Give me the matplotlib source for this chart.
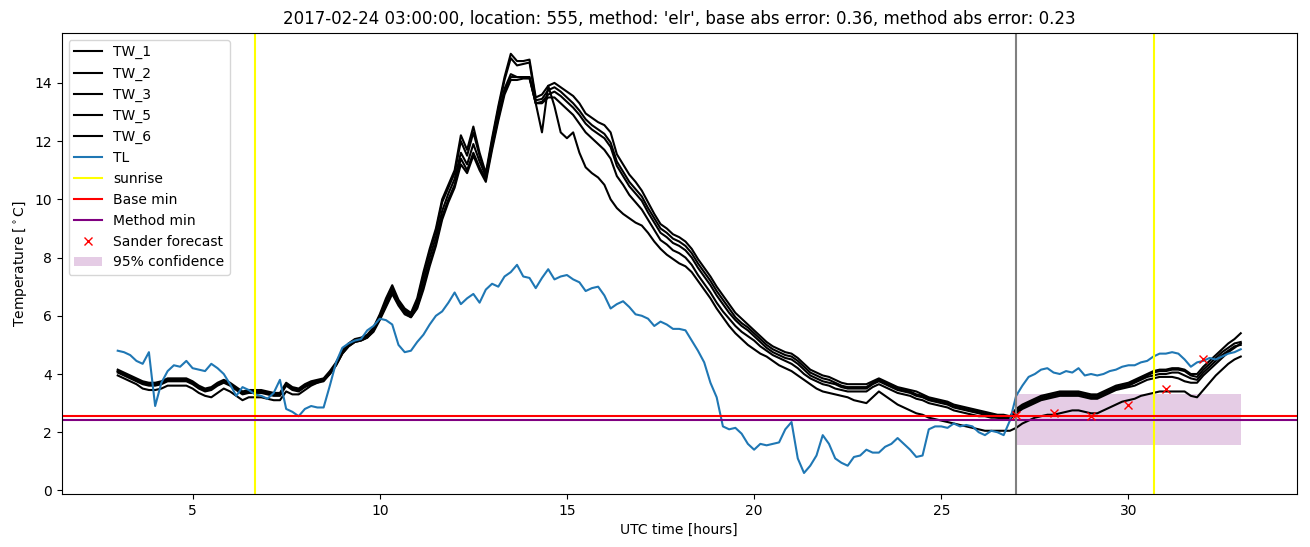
import numpy as np
import matplotlib
matplotlib.use("Agg")
import matplotlib.pyplot as plt

# time grid: 10-minute steps from 03:00 to 33:00 (hours)
hours = np.arange(181) / 6.0 + 3.0

TW_1 = [4.15, 4.05, 3.95, 3.85, 3.75, 3.7,
        3.7, 3.75, 3.85, 3.85, 3.85, 3.85,
        3.75, 3.6, 3.5, 3.55, 3.7, 3.8,
        3.7, 3.55, 3.4, 3.45, 3.45, 3.45,
        3.4, 3.35, 3.35, 3.7, 3.55, 3.5,
        3.65, 3.75, 3.8, 3.85, 4.1, 4.4,
        4.8, 5.05, 5.2, 5.25, 5.35, 5.6,
        6.05, 6.6, 7.05, 6.55, 6.25, 6.1,
        6.6, 7.5, 8.3, 9.0, 10.0, 10.5,
        11.0, 12.2, 11.7, 12.5, 11.6, 10.9,
        12.1, 13.2, 14.2, 15.0, 14.75, 14.75,
        14.8, 13.5, 13.6, 13.9, 14.0, 13.85,
        13.7, 13.55, 13.3, 12.95, 12.8, 12.65,
        12.55, 12.3, 11.55, 11.2, 10.85, 10.6,
        10.3, 9.9, 9.5, 9.15, 9.0, 8.8,
        8.7, 8.55, 8.3, 7.95, 7.65, 7.35,
        7.0, 6.7, 6.4, 6.1, 5.9, 5.7,
        5.5, 5.3, 5.1, 4.95, 4.85, 4.75,
        4.7, 4.55, 4.35, 4.15, 4.05, 3.95,
        3.9, 3.8, 3.7, 3.65, 3.65, 3.65,
        3.65, 3.75, 3.85, 3.75, 3.65, 3.55,
        3.5, 3.45, 3.4, 3.3, 3.2, 3.15,
        3.1, 3.05, 2.95, 2.9, 2.85, 2.8,
        2.75, 2.7, 2.65, 2.6, 2.6, 2.55,
        2.8, 2.95, 3.05, 3.15, 3.25, 3.3,
        3.35, 3.4, 3.4, 3.4, 3.4, 3.35,
        3.3, 3.3, 3.4, 3.5, 3.6, 3.65,
        3.7, 3.8, 3.9, 4.0, 4.1, 4.15,
        4.15, 4.2, 4.2, 4.15, 4.0, 4.0,
        4.25, 4.45, 4.65, 4.85, 5.05, 5.2,
        5.4]

TW_2 = [4.1, 4.0, 3.9, 3.8, 3.7, 3.65,
        3.65, 3.7, 3.8, 3.8, 3.8, 3.8,
        3.7, 3.55, 3.45, 3.5, 3.65, 3.75,
        3.65, 3.5, 3.35, 3.4, 3.4, 3.4,
        3.35, 3.3, 3.3, 3.65, 3.5, 3.45,
        3.6, 3.7, 3.75, 3.8, 4.05, 4.35,
        4.75, 5.0, 5.15, 5.2, 5.3, 5.55,
        6.0, 6.5, 6.95, 6.5, 6.2, 6.05,
        6.5, 7.4, 8.2, 8.9, 9.9, 10.4,
        10.9, 12.0, 11.5, 12.3, 11.5, 10.8,
        12.0, 13.1, 14.1, 14.85, 14.6, 14.65,
        14.7, 13.4, 13.45, 13.75, 13.85, 13.7,
        13.5, 13.3, 13.05, 12.75, 12.55, 12.4,
        12.25, 11.95, 11.3, 10.95, 10.6, 10.35,
        10.1, 9.7, 9.35, 9.0, 8.85, 8.65,
        8.55, 8.4, 8.15, 7.8, 7.5, 7.2,
        6.85, 6.55, 6.25, 5.95, 5.75, 5.6,
        5.4, 5.2, 5.0, 4.85, 4.75, 4.65,
        4.6, 4.45, 4.25, 4.05, 3.95, 3.85,
        3.8, 3.7, 3.6, 3.55, 3.55, 3.55,
        3.55, 3.7, 3.8, 3.7, 3.6, 3.5,
        3.45, 3.4, 3.3, 3.25, 3.15, 3.1,
        3.05, 3.0, 2.9, 2.85, 2.8, 2.75,
        2.7, 2.65, 2.6, 2.55, 2.55, 2.5,
        2.75, 2.9, 3.0, 3.1, 3.2, 3.25,
        3.3, 3.35, 3.35, 3.35, 3.35, 3.3,
        3.25, 3.25, 3.35, 3.45, 3.55, 3.6,
        3.65, 3.75, 3.85, 3.95, 4.05, 4.1,
        4.1, 4.15, 4.15, 4.1, 3.95, 3.9,
        4.15, 4.35, 4.55, 4.75, 4.9, 5.05,
        5.1]

TW_3 = [4.05, 3.95, 3.85, 3.75, 3.65, 3.6,
        3.6, 3.65, 3.75, 3.75, 3.75, 3.75,
        3.65, 3.5, 3.4, 3.45, 3.6, 3.7,
        3.6, 3.45, 3.3, 3.35, 3.35, 3.35,
        3.3, 3.25, 3.25, 3.6, 3.45, 3.4,
        3.55, 3.65, 3.7, 3.8, 4.0, 4.3,
        4.7, 4.95, 5.1, 5.15, 5.25, 5.5,
        5.95, 6.4, 6.85, 6.45, 6.15, 6.0,
        6.4, 7.2, 8.0, 8.7, 9.6, 10.2,
        10.7, 11.6, 11.2, 11.9, 11.3, 10.8,
        11.9, 12.9, 13.8, 14.3, 14.2, 14.2,
        14.2, 13.3, 13.35, 13.6, 13.7, 13.55,
        13.35, 13.15, 12.9, 12.6, 12.4, 12.25,
        12.1, 11.8, 11.15, 10.8, 10.45, 10.2,
        9.95, 9.55, 9.2, 8.85, 8.7, 8.5,
        8.4, 8.25, 8.0, 7.65, 7.35, 7.05,
        6.7, 6.4, 6.1, 5.85, 5.65, 5.5,
        5.3, 5.1, 4.9, 4.75, 4.65, 4.55,
        4.5, 4.35, 4.15, 3.95, 3.85, 3.75,
        3.7, 3.65, 3.55, 3.5, 3.5, 3.5,
        3.5, 3.65, 3.75, 3.65, 3.55, 3.45,
        3.4, 3.35, 3.25, 3.2, 3.1, 3.05,
        3.0, 2.95, 2.85, 2.8, 2.75, 2.7,
        2.65, 2.6, 2.55, 2.5, 2.5, 2.45,
        2.7, 2.85, 2.95, 3.05, 3.15, 3.2,
        3.25, 3.3, 3.3, 3.3, 3.3, 3.25,
        3.2, 3.2, 3.3, 3.4, 3.5, 3.55,
        3.6, 3.7, 3.8, 3.9, 3.95, 4.0,
        4.0, 4.05, 4.05, 3.95, 3.85, 3.8,
        4.05, 4.25, 4.45, 4.65, 4.8, 4.95,
        5.0]

TW_5 = [4.1, 4.0, 3.9, 3.8, 3.7, 3.65,
        3.65, 3.7, 3.8, 3.8, 3.8, 3.8,
        3.7, 3.55, 3.45, 3.5, 3.65, 3.75,
        3.65, 3.5, 3.35, 3.4, 3.4, 3.4,
        3.35, 3.3, 3.3, 3.65, 3.5, 3.45,
        3.6, 3.7, 3.75, 3.8, 4.05, 4.35,
        4.75, 5.0, 5.15, 5.2, 5.3, 5.5,
        5.9, 6.35, 6.8, 6.4, 6.1, 5.95,
        6.3, 7.0, 7.8, 8.5, 9.4, 10.0,
        10.5, 11.4, 11.0, 11.6, 11.1, 10.7,
        11.8, 12.8, 13.7, 14.2, 14.2, 14.2,
        14.2, 13.3, 13.3, 13.5, 13.5, 13.3,
        13.1, 12.9, 12.6, 12.3, 12.1, 11.9,
        11.7, 11.4, 10.8, 10.5, 10.15, 9.9,
        9.65, 9.3, 8.95, 8.6, 8.45, 8.25,
        8.15, 8.0, 7.75, 7.4, 7.1, 6.8,
        6.45, 6.15, 5.9, 5.65, 5.45, 5.3,
        5.15, 4.95, 4.8, 4.65, 4.55, 4.45,
        4.35, 4.2, 4.0, 3.85, 3.75, 3.65,
        3.6, 3.5, 3.45, 3.4, 3.4, 3.4,
        3.4, 3.55, 3.65, 3.55, 3.45, 3.35,
        3.3, 3.25, 3.15, 3.1, 3.0, 2.95,
        2.9, 2.85, 2.75, 2.7, 2.65, 2.6,
        2.55, 2.55, 2.5, 2.5, 2.45, 2.45,
        2.65, 2.8, 2.9, 3.0, 3.1, 3.15,
        3.2, 3.25, 3.25, 3.25, 3.25, 3.2,
        3.15, 3.15, 3.25, 3.35, 3.45, 3.5,
        3.55, 3.6, 3.7, 3.8, 3.85, 3.9,
        3.9, 3.9, 3.85, 3.75, 3.7, 3.7,
        3.95, 4.15, 4.35, 4.55, 4.75, 4.9,
        5.05]

TW_6 = [3.95, 3.85, 3.75, 3.65, 3.5, 3.45,
        3.45, 3.5, 3.6, 3.6, 3.6, 3.6,
        3.5, 3.35, 3.25, 3.2, 3.35, 3.5,
        3.4, 3.25, 3.1, 3.2, 3.2, 3.2,
        3.15, 3.1, 3.1, 3.4, 3.3, 3.3,
        3.45, 3.6, 3.7, 3.75, 4.0, 4.3,
        4.7, 4.95, 5.1, 5.15, 5.25, 5.45,
        5.85, 6.3, 6.75, 6.35, 6.05, 5.95,
        6.25, 6.9, 7.7, 8.4, 9.3, 9.9,
        10.4, 11.2, 10.9, 11.5, 11.0, 10.6,
        11.7, 12.7, 13.6, 14.1, 14.1, 14.15,
        14.15, 13.3, 12.3, 13.9, 13.2, 12.3,
        12.1, 12.3, 11.6, 11.1, 10.9, 10.75,
        10.5, 10.0, 9.7, 9.5, 9.35, 9.2,
        9.1, 8.85, 8.55, 8.3, 8.1, 7.95,
        7.8, 7.7, 7.5, 7.2, 6.9, 6.6,
        6.25, 5.95, 5.65, 5.4, 5.2, 5.0,
        4.85, 4.7, 4.6, 4.45, 4.3, 4.2,
        4.1, 3.95, 3.8, 3.65, 3.5, 3.4,
        3.35, 3.3, 3.25, 3.2, 3.1, 3.05,
        3.0, 3.2, 3.4, 3.25, 3.1, 2.95,
        2.85, 2.75, 2.65, 2.6, 2.5, 2.45,
        2.4, 2.35, 2.3, 2.25, 2.2, 2.15,
        2.1, 2.05, 2.05, 2.05, 2.05, 2.05,
        2.15, 2.3, 2.4, 2.5, 2.55, 2.6,
        2.6, 2.65, 2.7, 2.75, 2.75, 2.7,
        2.65, 2.65, 2.75, 2.85, 2.95, 3.05,
        3.1, 3.15, 3.25, 3.3, 3.35, 3.4,
        3.4, 3.4, 3.4, 3.4, 3.25, 3.2,
        3.45, 3.7, 3.95, 4.15, 4.35, 4.5,
        4.6]

TL = [4.8, 4.75, 4.65, 4.45, 4.35, 4.75,
      2.9, 3.7, 4.1, 4.3, 4.25, 4.45,
      4.2, 4.15, 4.1, 4.35, 4.2, 4.0,
      3.65, 3.25, 3.55, 3.45, 3.3, 3.25,
      3.15, 3.35, 3.8, 2.8, 2.7, 2.55,
      2.8, 2.9, 2.85, 2.85, 3.6, 4.4,
      4.9, 5.05, 5.15, 5.2, 5.5, 5.65,
      5.9, 5.85, 5.7, 5.0, 4.75, 4.8,
      5.1, 5.35, 5.7, 6.0, 6.15, 6.45,
      6.8, 6.4, 6.6, 6.75, 6.45, 6.9,
      7.1, 7.0, 7.35, 7.5, 7.75, 7.35,
      7.3, 6.95, 7.3, 7.6, 7.25, 7.35,
      7.4, 7.25, 7.15, 6.85, 6.95, 7.0,
      6.7, 6.25, 6.4, 6.5, 6.3, 6.05,
      6.0, 5.9, 5.65, 5.8, 5.7, 5.55,
      5.55, 5.5, 5.15, 4.8, 4.4, 3.7,
      3.2, 2.2, 2.1, 2.15, 1.95, 1.6,
      1.4, 1.6, 1.55, 1.6, 1.65, 2.1,
      2.35, 1.1, 0.6, 0.85, 1.2, 1.9,
      1.6, 1.1, 0.95, 0.85, 1.15, 1.2,
      1.4, 1.3, 1.3, 1.5, 1.6, 1.8,
      1.6, 1.4, 1.15, 1.2, 2.1, 2.2,
      2.2, 2.15, 2.3, 2.2, 2.25, 2.2,
      2.0, 1.9, 2.05, 2.0, 1.9, 2.4,
      3.25, 3.6, 3.9, 4.0, 4.15, 4.2,
      4.05, 4.0, 4.1, 4.05, 4.2, 3.95,
      4.0, 3.95, 4.0, 4.1, 4.15, 4.25,
      4.3, 4.3, 4.4, 4.45, 4.6, 4.7,
      4.7, 4.75, 4.7, 4.5, 4.25, 4.4,
      4.45, 4.55, 4.5, 4.6, 4.7, 4.75,
      4.85]

tw_series = {"TW_1": TW_1, "TW_2": TW_2, "TW_3": TW_3, "TW_5": TW_5, "TW_6": TW_6}

sunrise_hours = [6.68, 30.68]
forecast_time = 27.0
base_min = 2.56
method_min = 2.43
sander_hours = [27, 28, 29, 30, 31, 32]
sander_values = [2.6, 2.67, 2.57, 2.95, 3.47, 4.5]
conf_hours = [27, 33]
conf_low = 1.56
conf_high = 3.3

title = ("2017-02-24 03:00:00, location: 555, method: 'elr', "
         "base abs error: 0.36, method abs error: 0.23")

fig, ax = plt.subplots(figsize=(13.1, 5.47), dpi=100)
fig.subplots_adjust(left=0.047, right=0.990, bottom=0.097, top=0.940)

for name, vals in tw_series.items():
    ax.plot(hours, vals, color="black", label=name)
ax.plot(hours, TL, color="#1f77b4", label="TL")
ax.axvline(sunrise_hours[0], color="yellow", label="sunrise")
ax.axvline(sunrise_hours[1], color="yellow")
ax.axhline(base_min, color="red", label="Base min")
ax.axhline(method_min, color="purple", label="Method min")
ax.axvline(forecast_time, color="grey")
ax.plot(sander_hours, sander_values, "x", color="red", linestyle="none",
        label="Sander forecast")
ax.fill_between(conf_hours, conf_low, conf_high, color="purple", alpha=0.2,
                linewidth=0, label="95% confidence")

ax.set_title(title)
ax.set_xlabel("UTC time [hours]")
ax.set_ylabel(r"Temperature [$^\circ$C]")
ax.legend(loc="upper left")

fig.savefig("out.png", dpi=100)
